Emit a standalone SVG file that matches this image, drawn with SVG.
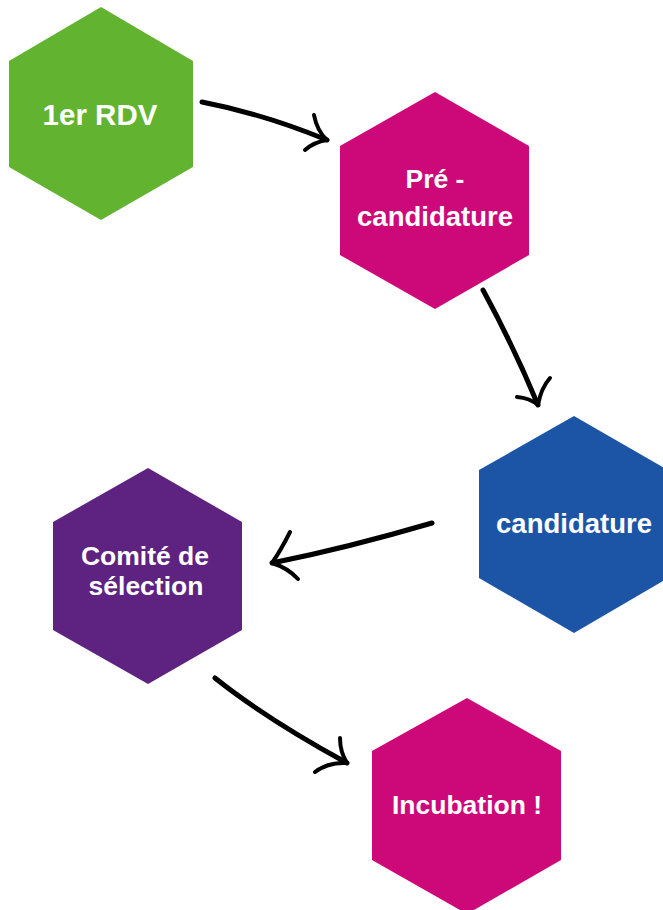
<svg xmlns="http://www.w3.org/2000/svg" width="663" height="910" viewBox="0 0 663 910">
<style>
.t{font-family:"Liberation Sans",Arial,sans-serif;font-weight:700;fill:#ffffff;text-anchor:middle;font-size:26.5px}
.a{fill:none;stroke:#000;stroke-width:5;stroke-linecap:round;stroke-linejoin:round}
.b{fill:none;stroke:#000;stroke-width:4;stroke-linecap:round;stroke-linejoin:round}
</style>
<rect width="663" height="910" fill="#ffffff"/>
<g id="node-1er-rdv">
<polygon points="101,7 193,61 193,167 101,220 9,167 9,61" fill="#62B330"/>
<text class="t" x="100" y="125" style="font-size:29.5px">1er RDV</text>
</g>
<g id="node-pre-candidature">
<polygon points="435,92 529,146 529,255 435,309 340,255 340,146" fill="#CD0878"/>
<text class="t" x="435" y="188">Pré -</text>
<text class="t" x="435" y="226" style="font-size:27.5px">candidature</text>
</g>
<g id="node-candidature">
<polygon points="574,416 668,470 668,578 574,633 479,578 479,470" fill="#1C55A5"/>
<text class="t" x="574" y="533" style="font-size:27.5px">candidature</text>
</g>
<g id="node-comite">
<polygon points="148,468 242,522 242,630 148,684 53,630 53,522" fill="#5E2281"/>
<text class="t" x="145" y="565">Comité de</text>
<text class="t" x="146" y="595">sélection</text>
</g>
<g id="node-incubation">
<polygon points="467,698 561,751 561,860 467,914 372,860 372,751" fill="#CD0878"/>
<text class="t" x="467" y="814">Incubation !</text>
</g>
<g id="connectors">
<path class="a" d="M202,102 Q264,114 327,140"/>
<path class="b" d="M314,115 Q317,131 327,140 Q314,142 305,150"/>
<path class="a" d="M483,290 Q513,345 538,405"/>
<path class="b" d="M517,397 Q530,398 538,405 Q541,388 550,378"/>
<path class="a" d="M432,523 Q347,548 272,563"/>
<path class="b" d="M290,532 Q281,550 272,563 Q288,568 298,579"/>
<path class="a" d="M215,678 Q265,718 347,763"/>
<path class="b" d="M340,738 Q340,752 347,763 Q328,762 315,772"/>
</g>
</svg>
